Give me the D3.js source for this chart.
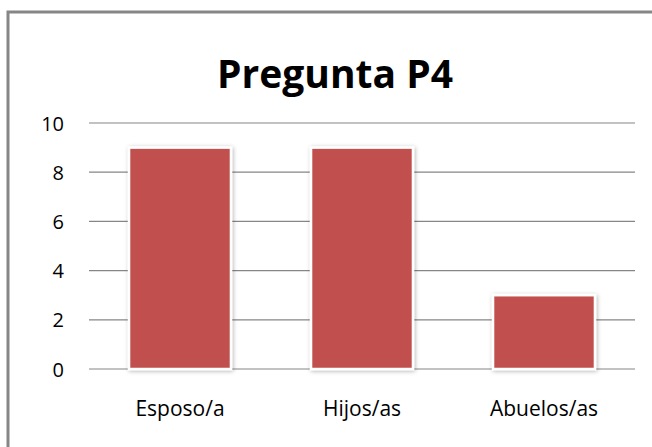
<!DOCTYPE html>
<html lang="en">
<head>
<meta charset="UTF-8">
<title>Pregunta P4</title>
<script src="https://cdn.jsdelivr.net/npm/d3@7"></script>
<style>
    body { margin: 0; background: #fff; }
    .title { font-family: "Open Sans", sans-serif; font-weight: bold; font-size: 39px; fill: #000; }
    .yax .tick text { font-family: "Open Sans", sans-serif; font-size: 20px; fill: #000; }
    .xax .tick text { font-family: "Open Sans", sans-serif; font-size: 21px; fill: #000; }
</style>
</head>
<body>
<div id="chart"></div>
<script>
// data
var categories = ["Esposo/a", "Hijos/as", "Abuelos/as"];
var values = [9, 9, 3];
var yTicks = [0, 2, 4, 6, 8, 10];

var W = 652, H = 447;
var margin = {top: 123, right: 17, bottom: 78, left: 89};
var width = W - margin.left - margin.right,
    height = H - margin.top - margin.bottom;

var svg = d3.select("#chart").append("svg")
    .attr("width", W)
    .attr("height", H);

// frame
svg.append("rect")
    .attr("x", 8).attr("y", 12)
    .attr("width", W).attr("height", H)
    .attr("fill", "#fff")
    .attr("stroke", "#868686")
    .attr("stroke-width", 3);

// shadow for bars
var defs = svg.append("defs");
var f = defs.append("filter").attr("id", "shadow")
    .attr("x", "-10%").attr("y", "-10%").attr("width", "120%").attr("height", "120%");
f.append("feDropShadow")
    .attr("dx", 1).attr("dy", 1).attr("stdDeviation", 2)
    .attr("flood-color", "#000").attr("flood-opacity", 0.3);

svg.append("text")
    .attr("class", "title")
    .attr("x", 335).attr("y", 88)
    .attr("text-anchor", "middle")
    .text("Pregunta P4");

var g = svg.append("g")
    .attr("transform", "translate(" + margin.left + "," + margin.top + ")");

var x = d3.scaleBand().domain(categories).range([0, width]).paddingInner(0.44).paddingOuter(0.22);
var y = d3.scaleLinear().domain([0, 10]).range([height, 0]);

// gridlines
g.selectAll(".grid")
    .data(yTicks)
    .enter().append("line")
    .attr("x1", 0).attr("x2", width)
    .attr("y1", function(d) { return y(d); })
    .attr("y2", function(d) { return y(d); })
    .attr("stroke", "#868686")
    .attr("stroke-width", 1.2);

// y axis
var yAxis = g.append("g")
    .attr("class", "yax")
    .call(d3.axisLeft(y).tickValues(yTicks).tickSize(0).tickPadding(25));
yAxis.select(".domain").remove();
yAxis.selectAll("text").attr("dy", "0.35em");

// bars
g.selectAll(".bar")
    .data(values)
    .enter().append("rect")
    .attr("x", function(d, i) { return x(categories[i]); })
    .attr("y", function(d) { return y(d); })
    .attr("width", x.bandwidth())
    .attr("height", function(d) { return height - y(d); })
    .attr("fill", "#C0504D")
    .attr("stroke", "#fff")
    .attr("stroke-width", 2.5)
    .attr("filter", "url(#shadow)");

// x axis
var xAxis = g.append("g")
    .attr("class", "xax")
    .attr("transform", "translate(0," + height + ")")
    .call(d3.axisBottom(x).tickSize(0).tickPadding(32));
xAxis.select(".domain").remove();
</script>
</body>
</html>
